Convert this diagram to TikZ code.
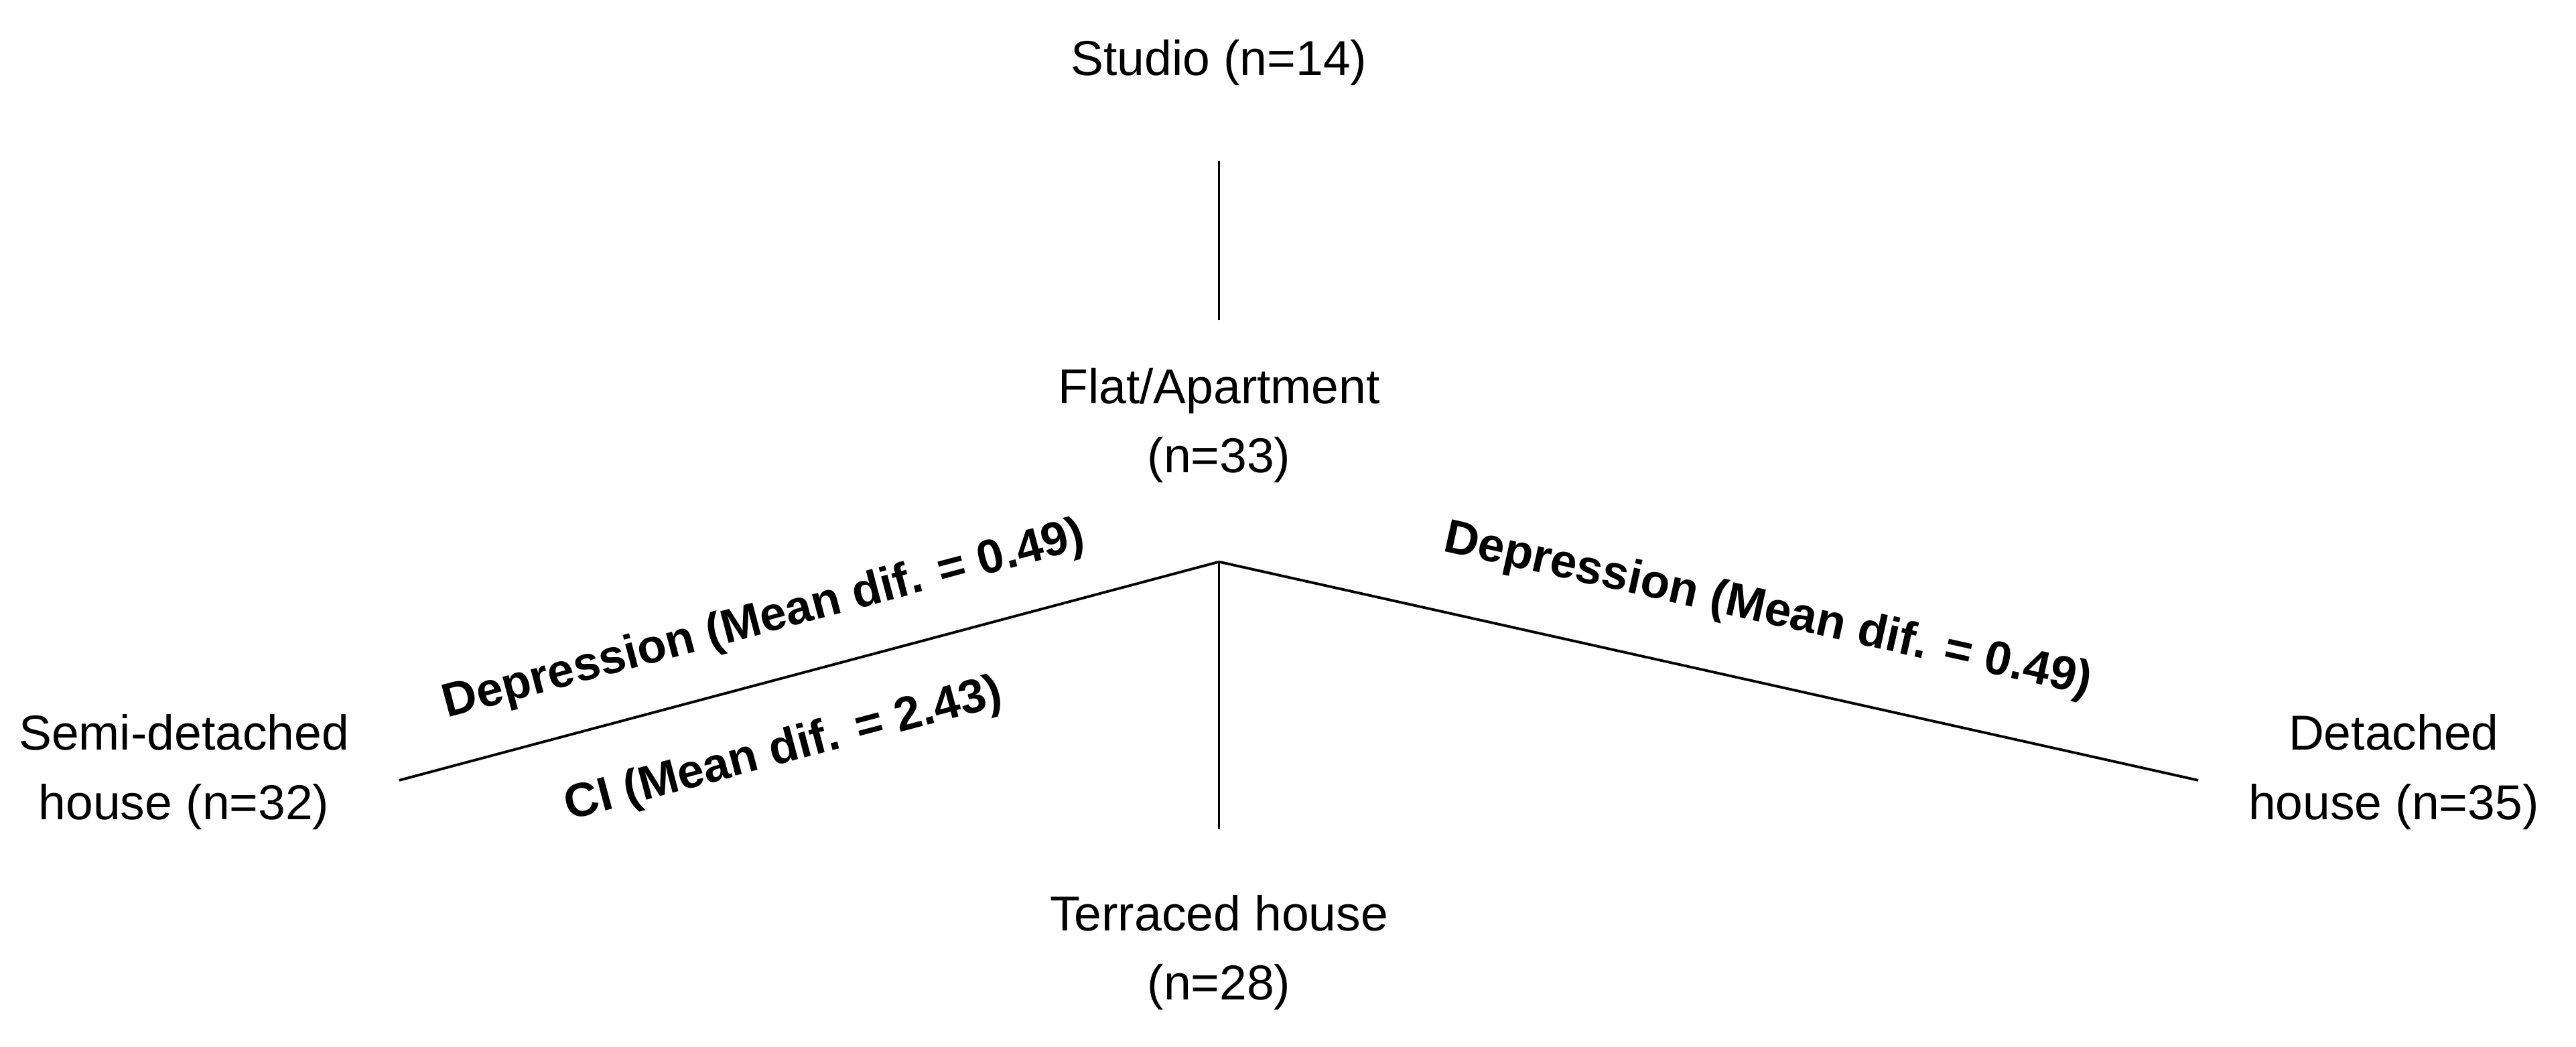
\documentclass[tikz,border=0pt]{standalone}
\usepackage{fontspec}
\setmainfont{Liberation Sans}
\begin{document}
\begin{tikzpicture}[x=0.02cm,y=-0.02cm,
  lab/.style={font=\fontsize{17}{20}\selectfont,align=center},
  blab/.style={font=\fontsize{16.5}{20}\selectfont\bfseries},
  ln/.style={line width=0.9pt}]
\useasboundingbox (0,0) rectangle (1568,637);
\node[lab] (studio) at (742,38) {Studio (n=14)};
\coordinate (s1) at (742,98);
\coordinate (s2) at (742,195);
\node[lab] (flat) at (742,259) {Flat/Apartment\\[4pt](n=33)};
\coordinate (j) at (742,342);
\coordinate (l) at (243,475);
\coordinate (r) at (1338,475);
\coordinate (d) at (742,505);
\node[lab] (semi) at (112,470) {Semi-detached\\[4pt]house (n=32)};
\node[lab] (det) at (1457,470) {Detached\\[4pt]house (n=35)};
\node[lab] (ter) at (742,580) {Terraced house\\[4pt](n=28)};
\draw[ln] (s1) -- (s2);
\draw[ln] (j) -- (l);
\draw[ln] (j) -- (r);
\draw[ln] (j) -- (d);
\node[blab,rotate=14.9] at (465,378) {Depression (Mean dif. = 0.49)};
\node[blab,rotate=14.9] at (477,457) {CI (Mean dif. = 2.43)};
\node[blab,rotate=-12.6] at (1076,372) {Depression (Mean dif. = 0.49)};
\end{tikzpicture}
\end{document}
